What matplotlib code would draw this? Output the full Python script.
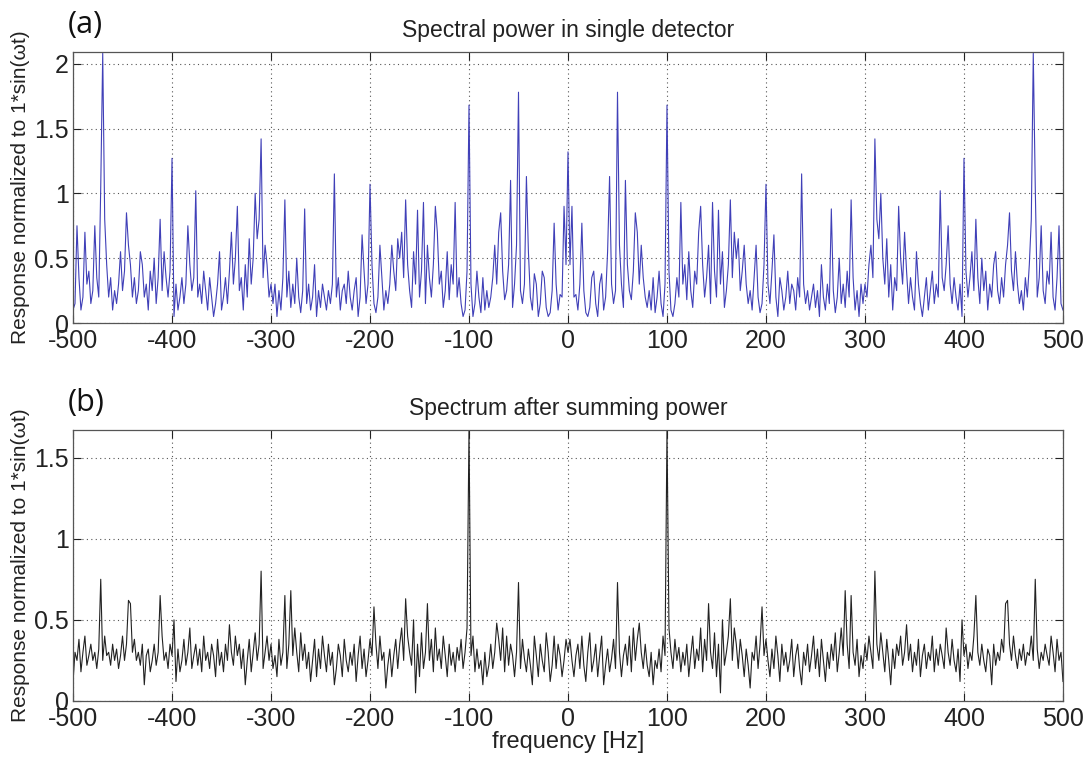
import numpy as np
import matplotlib
matplotlib.use('Agg')
from matplotlib import pyplot as plt

plt.rcParams['font.family'] = ['Liberation Sans', 'DejaVu Sans']

# positive half of the spectrum, 0..500 Hz in 2 Hz steps
# (the spectrum of a real signal is mirrored about 0 Hz)
freq_half = np.arange(0, 501, 2)

single_half = [
    1.32, 0.45, 0.90, 0.20, 0.22, 0.10, 0.30, 0.77, 0.25, 0.08,
    0.05, 0.12, 0.35, 0.40, 0.15, 0.05, 0.30, 0.38, 0.10, 0.20,
    0.55, 1.13, 0.30, 0.15, 0.25, 1.78, 0.60, 0.30, 0.12, 1.10,
    0.45, 0.25, 0.18, 0.40, 0.85, 0.70, 0.30, 0.60, 0.35, 0.20,
    0.12, 0.25, 0.10, 0.35, 0.08, 0.20, 0.40, 0.15, 0.05, 0.30,
    1.68, 0.40, 0.10, 0.05, 0.15, 0.35, 0.20, 0.93, 0.30, 0.45,
    0.18, 0.55, 0.25, 0.12, 0.40, 0.30, 0.70, 0.90, 0.45, 0.20,
    0.35, 0.60, 0.15, 0.93, 0.40, 0.20, 0.87, 0.30, 0.55, 0.12,
    0.25, 0.45, 0.95, 0.35, 0.70, 0.50, 0.65, 0.25, 0.40, 0.60,
    0.30, 0.15, 0.25, 0.10, 0.35, 0.60, 0.20, 0.08, 0.15, 0.45,
    1.07, 0.30, 0.15, 0.40, 0.68, 0.20, 0.05, 0.35, 0.25, 0.10,
    0.20, 0.40, 0.15, 0.30, 0.25, 0.10, 0.35, 0.20, 1.15, 0.30,
    0.15, 0.25, 0.10, 0.20, 0.30, 0.12, 0.25, 0.05, 0.45, 0.20,
    0.10, 0.30, 0.15, 0.88, 0.25, 0.08, 0.20, 0.50, 0.15, 0.30,
    0.12, 0.40, 0.20, 0.95, 0.35, 0.10, 0.25, 0.05, 0.30, 0.15,
    0.30, 0.20, 0.45, 0.60, 0.35, 1.42, 0.80, 0.65, 1.00, 0.50,
    0.30, 0.65, 0.20, 0.45, 0.10, 0.35, 0.25, 0.90, 0.50, 0.30,
    0.70, 0.40, 0.15, 0.35, 0.20, 0.10, 0.55, 0.30, 0.15, 0.05,
    0.20, 0.35, 0.10, 0.25, 0.40, 0.15, 0.30, 0.20, 1.02, 0.35,
    0.25, 0.45, 0.75, 0.30, 0.15, 0.35, 0.20, 0.10, 0.30, 0.05,
    1.27, 0.40, 0.20, 0.35, 0.55, 0.25, 0.80, 0.35, 0.15, 0.50,
    0.25, 0.40, 0.10, 0.30, 0.20, 0.45, 0.55, 0.25, 0.15, 0.35,
    0.20, 0.45, 0.60, 0.85, 0.40, 0.25, 0.55, 0.30, 0.15, 0.25,
    0.10, 0.35, 0.20, 0.45, 0.80, 2.08, 1.05, 0.20, 0.35, 0.75,
    0.25, 0.15, 0.40, 0.30, 0.70, 0.20, 0.10, 0.35, 0.75, 0.15,
    0.10,
]

summed_half = [
    0.30, 0.38, 0.25, 0.15, 0.28, 0.35, 0.20, 0.40, 0.22, 0.12,
    0.30, 0.42, 0.18, 0.25, 0.35, 0.15, 0.28, 0.40, 0.10, 0.22,
    0.32, 0.18, 0.26, 0.38, 0.20, 0.73, 0.30, 0.15, 0.28, 0.35,
    0.22, 0.40, 0.18, 0.45, 0.25, 0.38, 0.48, 0.30, 0.20, 0.35,
    0.22, 0.15, 0.30, 0.10, 0.25, 0.20, 0.32, 0.18, 0.40, 0.28,
    1.67, 0.45, 0.30, 0.20, 0.38, 0.25, 0.33, 0.18, 0.30, 0.22,
    0.35, 0.15, 0.28, 0.40, 0.20, 0.32, 0.25, 0.45, 0.18, 0.38,
    0.25, 0.60, 0.30, 0.20, 0.42, 0.15, 0.35, 0.05, 0.50, 0.22,
    0.30, 0.40, 0.63, 0.25, 0.45, 0.35, 0.20, 0.38, 0.28, 0.15,
    0.32, 0.22, 0.08, 0.30, 0.25, 0.40, 0.20, 0.35, 0.58, 0.28,
    0.38, 0.25, 0.15, 0.32, 0.20, 0.40, 0.28, 0.12, 0.35, 0.22,
    0.30, 0.18, 0.25, 0.38, 0.15, 0.28, 0.35, 0.20, 0.10, 0.30,
    0.22, 0.35, 0.18, 0.28, 0.40, 0.20, 0.32, 0.15, 0.38, 0.25,
    0.12, 0.30, 0.20, 0.35, 0.25, 0.42, 0.18, 0.30, 0.45, 0.28,
    0.68, 0.35, 0.20, 0.65, 0.30, 0.22, 0.38, 0.15, 0.28, 0.20,
    0.35, 0.25, 0.40, 0.30, 0.20, 0.80, 0.35, 0.25, 0.42, 0.30,
    0.18, 0.38, 0.25, 0.10, 0.32, 0.20, 0.35, 0.28, 0.40, 0.22,
    0.30, 0.47, 0.25, 0.35, 0.18, 0.30, 0.22, 0.38, 0.15, 0.28,
    0.35, 0.20, 0.30, 0.25, 0.40, 0.18, 0.32, 0.22, 0.35, 0.28,
    0.20, 0.45, 0.30, 0.22, 0.38, 0.25, 0.18, 0.32, 0.12, 0.50,
    0.28, 0.35, 0.20, 0.30, 0.25, 0.40, 0.65, 0.30, 0.22, 0.35,
    0.25, 0.18, 0.32, 0.28, 0.10, 0.35, 0.22, 0.30, 0.25, 0.38,
    0.30, 0.60, 0.62, 0.35, 0.25, 0.40, 0.28, 0.20, 0.32, 0.25,
    0.35, 0.22, 0.30, 0.28, 0.40, 0.25, 0.75, 0.32, 0.20, 0.30,
    0.25, 0.35, 0.28, 0.22, 0.40, 0.30, 0.18, 0.38, 0.25, 0.30,
    0.12,
]

freq = np.concatenate([-freq_half[:0:-1], freq_half])
single = np.concatenate([np.array(single_half)[:0:-1], single_half])
summed = np.concatenate([np.array(summed_half)[:0:-1], summed_half])

x_ticks = [-500, -400, -300, -200, -100, 0, 100, 200, 300, 400, 500]
ylabel = 'Response normalized to 1*sin(\u03c9t)'

fig = plt.figure(figsize=(10.85, 7.57), dpi=100)
ax1 = fig.add_axes([0.0673, 0.5733, 0.9124, 0.358])
ax2 = fig.add_axes([0.0673, 0.074, 0.9124, 0.358])

panels = [
    (ax1, single, '#4040b8', 2.09, [0, 0.5, 1, 1.5, 2], ['0', '0.5', '1', '1.5', '2'],
     'Spectral power in single detector', '(a)'),
    (ax2, summed, '#222222', 1.67, [0, 0.5, 1, 1.5], ['0', '0.5', '1', '1.5'],
     'Spectrum after summing power', '(b)'),
]

for ax, values, color, ytop, yt, ytl, title, tag in panels:
    ax.plot(freq, values, color=color, lw=0.8)
    ax.set_xlim(-500, 500)
    ax.set_ylim(0, ytop)
    ax.set_xticks(x_ticks)
    ax.set_xticklabels([str(t) for t in x_ticks])
    ax.set_yticks(yt)
    ax.set_yticklabels(ytl)
    ax.grid(True, linestyle=(0, (1, 3)), color='#555555', lw=0.8)
    ax.tick_params(direction='in', top=True, right=True, labelsize=18,
                   length=6, colors='#222222', pad=4)
    ax.tick_params(axis='y', pad=3)
    for sp in ax.spines.values():
        sp.set_color('#555555')
        sp.set_linewidth(0.9)
    ax.set_title(title, fontsize=16.5, color='#222222', pad=11)
    ax.set_ylabel(ylabel, fontsize=15, color='#222222')
    ax.yaxis.set_label_coords(-0.043, 0.5)
    ax.text(-0.005, 1.045, tag, transform=ax.transAxes, fontsize=22,
            family=['Open Sans', 'DejaVu Sans'], color='#111111', va='bottom')

ax2.set_xlabel('frequency [Hz]', fontsize=17, color='#222222', labelpad=0)

fig.savefig('out.png', dpi=100)
